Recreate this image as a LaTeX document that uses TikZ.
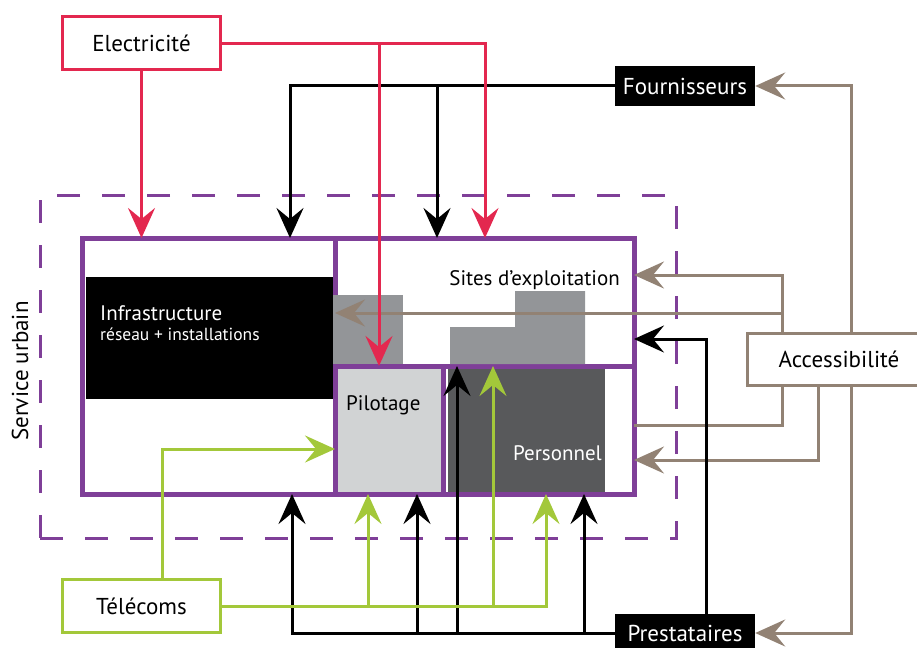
\documentclass[tikz,border=0pt]{standalone}
\usepackage{fontspec}
\setmainfont{PT Sans}
\usetikzlibrary{arrows.meta,calc}
\definecolor{elecred}{HTML}{E3284F}
\definecolor{urbpurple}{HTML}{7F3F98}
\definecolor{telgreen}{HTML}{A3C83A}
\definecolor{acctaupe}{HTML}{928274}
\definecolor{sitegray}{HTML}{939598}
\definecolor{pilotgray}{HTML}{D1D3D4}
\definecolor{persogray}{HTML}{58595B}

\begin{document}
\begin{tikzpicture}[
  x=1pt, y=-1pt, font=\fontsize{23}{27}\selectfont,
  >={Stealth[length=30pt,width=27pt,inset=11pt]},
  src/.style={draw, line width=3pt, fill=white, minimum width=158pt,
              minimum height=53pt, inner sep=0pt},
  ext/.style={fill=black, text=white, minimum width=140pt,
              minimum height=40pt, inner sep=0pt},
  cell/.style={draw=urbpurple, line width=5pt, inner sep=0pt, outer sep=0pt},
  lbl/.style={inner sep=0pt, font=\fontsize{21}{24}\selectfont},
  elecline/.style={elecred, line width=3pt},
  supline/.style={black, line width=3pt},
  telline/.style={telgreen, line width=3pt},
  accline/.style={acctaupe, line width=3pt},
]
\useasboundingbox (0,0) rectangle (917,647);

\node[draw=urbpurple, line width=3pt, dash pattern=on 23pt off 22pt,
      minimum width=636pt, minimum height=343pt] (urb) at (358,366.5) {};
\node[rotate=90] (urbtxt) at (20,371) {Service urbain};

\node[src, draw=elecred] (elec) at (141.5,43.5) {Electricité};
\node[ext] (fourn) at (685,86) {Fournisseurs};
\node[src, draw=acctaupe, minimum width=183pt, minimum height=52pt] (access) at (839,359.5) {Accessibilité};
\node[ext, minimum height=38pt] (prest) at (685,633) {Prestataires};
\node[src, draw=telgreen] (telec) at (141.5,606) {Télécoms};

\node[fill=black, minimum width=247pt, minimum height=122pt] (infrabox) at (209.5,338) {};
\node[fill=persogray, minimum width=157pt, minimum height=124pt] (persobox) at (526.5,430) {};
\node[cell, minimum width=552pt, minimum height=256pt] (main) at (358,366) {};
\node[cell, minimum width=299pt, minimum height=128pt] (sites) at (484.5,302) {};
\node[cell, fill=pilotgray, minimum width=108pt, minimum height=128pt] (pilot) at (389,430) {};
\node[cell, minimum width=191pt, minimum height=128pt] (perso) at (538.5,430) {};
\fill[sitegray] (333,295) rectangle (403,364);
\fill[sitegray] (450,364) |- (515,327) |- (585,291) -- (585,364) -- cycle;

\node[lbl, anchor=west, text=white, align=left] (infratxt) at (100,323)
  {Infrastructure\\[-4pt]{\fontsize{17.5}{20}\selectfont réseau + installations}};
\node[lbl, anchor=east] (sitestxt) at (620,280) {Sites d’exploitation};
\node[lbl, anchor=west] (pilottxt) at (346,405) {Pilotage};
\node[lbl, anchor=east, text=white] (persotxt) at (602,453) {Personnel};

\coordinate (redP) at (379,0);  \coordinate (redS) at (485,0);
\coordinate (supI) at (290,0);  \coordinate (supS) at (437,0);
\coordinate (preI) at (292,0);  \coordinate (preP) at (417,0);
\coordinate (preS) at (457,0);  \coordinate (preE) at (584,0);
\coordinate (preR) at (706,0);
\coordinate (telP) at (162,0);  \coordinate (telA) at (368,0);
\coordinate (telS) at (493,0);  \coordinate (telE) at (546,0);
\coordinate (accL) at (782,0);  \coordinate (accM) at (818,0);
\coordinate (accR) at (851,0);
\coordinate (lvSites) at (0,275); \coordinate (lvInfra) at (0,313);
\coordinate (lvPre) at (0,339);   \coordinate (lvTel) at (0,449);
\coordinate (lvOut) at (0,425);   \coordinate (lvIn) at (0,460);

\draw[accline,->] (accL |- access.north) |- (sites.east |- lvSites);
\draw[accline,->] (accL |- lvInfra) -- (sites.west |- lvInfra);
\draw[accline,->] (accR |- access.north) |- (fourn.east);
\draw[accline] (accL |- access.south) |- (main.east |- lvOut);
\draw[accline,->] (accM |- access.south) |- (main.east |- lvIn);
\draw[accline,->] (accR |- access.south) |- (prest.east);

\draw[supline,->] (fourn.west) -| (supI |- main.north);
\draw[supline,->] (supS |- fourn.west) -- (supS |- main.north);
\draw[supline,->] (prest.west) -| (preI |- main.south);
\draw[supline,->] (preP |- prest.west) -- (preP |- main.south);
\draw[supline,->] (preS |- prest.west) -- (preS |- sites.south);
\draw[supline,->] (preE |- prest.west) -- (preE |- main.south);
\draw[supline,->] (preR |- prest.north) |- (main.east |- lvPre);

\draw[telline,->] (telP |- telec.north) |- (pilot.west |- lvTel);
\draw[telline,->] (telec.east) -| (telE |- main.south);
\draw[telline,->] (telA |- telec.east) -- (telA |- main.south);
\draw[telline,->] (telS |- telec.east) -- (telS |- sites.south);

\draw[elecline,->] (elec.south) -- (elec.south |- main.north);
\draw[elecline,->] (elec.east) -| (redS |- main.north);
\draw[elecline,->] (redP |- elec.east) -- (redP |- pilot.north);
\end{tikzpicture}
\end{document}
